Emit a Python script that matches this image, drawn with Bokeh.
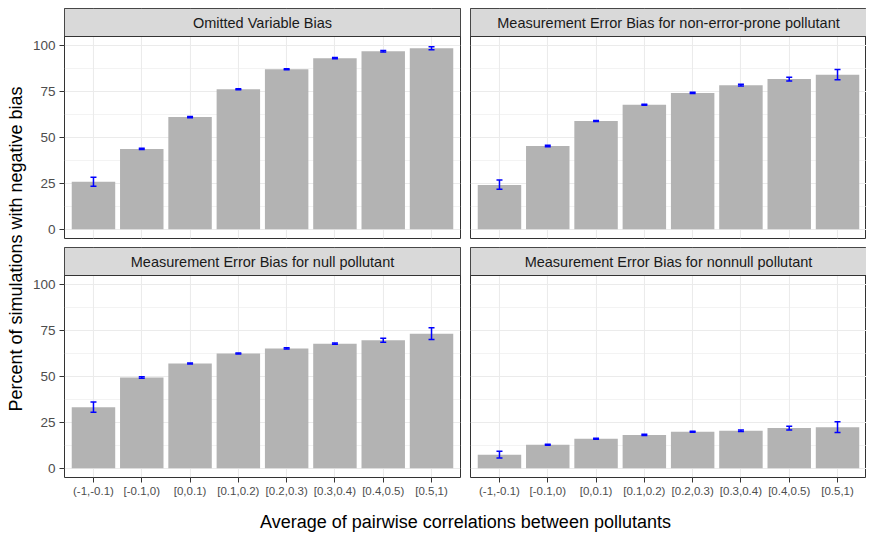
import numpy as np
from bokeh.plotting import figure
from bokeh.models import Range1d, FixedTicker, ColumnDataSource, Whisker, TeeHead
from bokeh.layouts import row, column
from bokeh.embed import file_html
from bokeh.resources import INLINE
from bokeh.core.properties import value

# ---------------- data ----------------
cats = ["(-1,-0.1)", "[-0.1,0)", "[0,0.1)", "[0.1,0.2)",
        "[0.2,0.3)", "[0.3,0.4)", "[0.4,0.5)", "[0.5,1)"]

titles = ["Omitted Variable Bias",
          "Measurement Error Bias for non-error-prone pollutant",
          "Measurement Error Bias for null pollutant",
          "Measurement Error Bias for nonnull pollutant"]

ovb = [25.9, 43.8, 61.1, 76.3, 87.2, 93.2, 97.0, 98.6]
ovb_lo = [23.4, 43.4, 60.8, 76.0, 86.9, 92.9, 96.6, 97.8]
ovb_hi = [28.4, 44.2, 61.4, 76.6, 87.5, 93.5, 97.4, 99.4]

nonerr = [24.2, 45.4, 59.0, 67.8, 74.3, 78.5, 81.8, 84.2]
nonerr_lo = [21.8, 45.0, 58.7, 67.5, 74.0, 78.0, 80.8, 81.4]
nonerr_hi = [26.8, 45.8, 59.3, 68.1, 74.6, 79.0, 82.8, 87.0]

null = [33.2, 49.5, 57.1, 62.5, 65.3, 67.9, 69.7, 73.3]
null_lo = [30.5, 49.1, 56.8, 62.2, 65.0, 67.5, 68.7, 70.2]
null_hi = [36.1, 49.9, 57.4, 62.8, 65.6, 68.3, 70.8, 76.6]

nonnull = [7.4, 12.8, 16.1, 18.2, 19.9, 20.4, 21.9, 22.4]
nonnull_lo = [5.6, 12.5, 15.8, 17.9, 19.6, 20.0, 20.9, 19.5]
nonnull_hi = [9.3, 13.1, 16.4, 18.5, 20.2, 20.8, 22.9, 25.4]

y_ticks = [0, 25, 50, 75, 100]
y_minor = [12.5, 37.5, 62.5, 87.5]

x_title = "Average of pairwise correlations between pollutants"
y_title = "Percent of simulations with negative bias"

# ---------------- styling / layout ----------------
FONT = "Liberation Sans"
PANEL_W = 396
FRAME_H = 230
STRIP_PX = 28
Y0, Y1 = -5, 105
UNIT = (FRAME_H - STRIP_PX) / (Y1 - Y0)
STRIP_TOP = Y1 + STRIP_PX / UNIT
X0, X1 = 0.4, len(cats) + 0.6
xs = np.arange(1, len(cats) + 1)
TOP_PAD = 8


def panel(title, vals, lo, hi, left_axis, bottom_axis):
    mbl = 36 if left_axis else 5
    mbr = 5 if left_axis else 0
    mbt = 4 if bottom_axis else TOP_PAD
    mbb = 25 if bottom_axis else 5
    p = figure(width=mbl + PANEL_W + mbr, height=mbt + FRAME_H + mbb,
               frame_width=PANEL_W, frame_height=FRAME_H,
               x_range=Range1d(X0, X1), y_range=Range1d(Y0, STRIP_TOP),
               output_backend="svg", toolbar_location=None,
               x_axis_location="below" if bottom_axis else None,
               y_axis_location="left" if left_axis else None,
               min_border_left=mbl, min_border_right=mbr,
               min_border_top=mbt, min_border_bottom=mbb)
    p.background_fill_color = "white"
    p.border_fill_color = "white"
    p.outline_line_color = "#333333"
    p.outline_line_width = 1

    p.xgrid.ticker = FixedTicker(ticks=list(xs))
    p.ygrid.ticker = FixedTicker(ticks=y_ticks, minor_ticks=y_minor)
    p.xgrid.grid_line_color = "#EBEBEB"
    p.ygrid.grid_line_color = "#EBEBEB"
    p.xgrid.grid_line_width = 1.1
    p.ygrid.grid_line_width = 1.1
    p.ygrid.minor_grid_line_color = "#EBEBEB"
    p.ygrid.minor_grid_line_width = 0.6

    p.vbar(x=xs, top=vals, bottom=0, width=0.9,
           fill_color="#B3B3B3", line_color=None)

    src = ColumnDataSource(dict(x=xs, lo=lo, hi=hi))
    w = Whisker(source=src, base="x", lower="lo", upper="hi",
                dimension="height", line_color="blue", line_width=1.5,
                upper_head=TeeHead(size=6, line_color="blue", line_width=1.5),
                lower_head=TeeHead(size=6, line_color="blue", line_width=1.5),
                level="overlay")
    p.add_layout(w)

    # facet strip
    p.quad(left=X0, right=X1, bottom=Y1, top=STRIP_TOP,
           fill_color="#D9D9D9", line_color="#333333", line_width=1)
    p.text(x=[(X0 + X1) / 2], y=[(Y1 + STRIP_TOP) / 2], text=[title],
           text_align="center", text_baseline="middle",
           text_font=value(FONT), text_font_size="14.5px",
           text_color="#1A1A1A")

    if left_axis:
        ax = p.yaxis[0]
        ax.ticker = FixedTicker(ticks=y_ticks)
        ax.major_label_text_font = FONT
        ax.major_label_text_font_size = "13.5px"
        ax.major_label_text_color = "#4D4D4D"
        ax.major_tick_line_color = "#333333"
        ax.major_tick_out = 5
        ax.major_tick_in = 0
        ax.minor_tick_out = 0
        ax.minor_tick_in = 0
        ax.axis_line_color = None
        ax.major_label_standoff = 4
    if bottom_axis:
        ax = p.xaxis[0]
        ax.ticker = FixedTicker(ticks=list(xs))
        ax.major_label_overrides = {int(i): c for i, c in zip(xs, cats)}
        ax.major_label_text_font = FONT
        ax.major_label_text_font_size = "11.5px"
        ax.major_label_text_color = "#4D4D4D"
        ax.major_tick_line_color = "#333333"
        ax.major_tick_out = 5
        ax.major_tick_in = 0
        ax.minor_tick_out = 0
        ax.minor_tick_in = 0
        ax.axis_line_color = None
        ax.major_label_standoff = 2
    return p


tl = panel(titles[0], ovb, ovb_lo, ovb_hi, True, False)
tr = panel(titles[1], nonerr, nonerr_lo, nonerr_hi, False, False)
bl = panel(titles[2], null, null_lo, null_hi, True, True)
br = panel(titles[3], nonnull, nonnull_lo, nonnull_hi, False, True)

grid_w = tl.width + tr.width
grid_h = tl.height + bl.height
XL_H = 36

xl = figure(width=grid_w, height=XL_H, frame_width=grid_w, frame_height=XL_H,
            x_range=Range1d(0, grid_w), y_range=Range1d(0, XL_H),
            output_backend="svg", toolbar_location=None,
            x_axis_location=None, y_axis_location=None, min_border=0)
xl.outline_line_color = None
xl.grid.visible = False
xl.text(x=[36 + (2 * PANEL_W + 10) / 2], y=[XL_H - 19], text=[x_title],
        text_align="center", text_baseline="middle",
        text_font=value(FONT), text_font_size="18px", text_color="black")

YL_W = 28
YL_H = grid_h + XL_H
yl = figure(width=YL_W, height=YL_H, frame_width=YL_W, frame_height=YL_H,
            x_range=Range1d(0, YL_W), y_range=Range1d(0, YL_H),
            output_backend="svg", toolbar_location=None,
            x_axis_location=None, y_axis_location=None, min_border=0)
yl.outline_line_color = None
yl.grid.visible = False
yl.text(x=[15.2], y=[YL_H - 248.5], text=[y_title], angle=np.pi / 2,
        text_align="center", text_baseline="middle",
        text_font=value(FONT), text_font_size="18px", text_color="black")

layout = row(yl, column(row(tl, tr), row(bl, br), xl))

open("out.html", "w").write(file_html(layout, INLINE))
